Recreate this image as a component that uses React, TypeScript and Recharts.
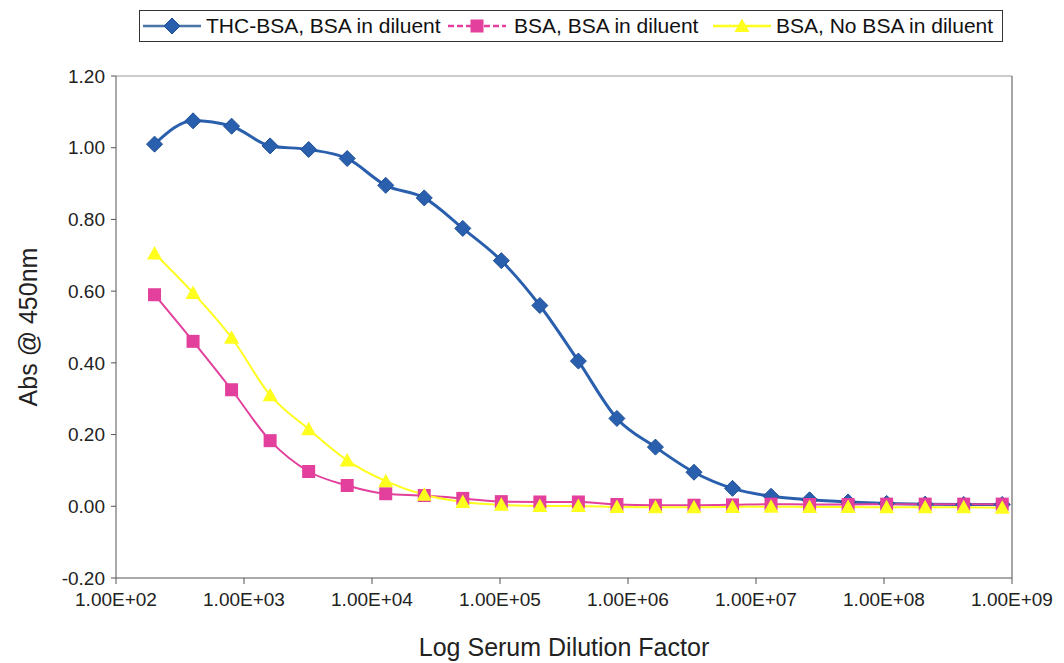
import React from 'react'
import {
  LineChart, Line, XAxis, YAxis, ReferenceLine, Label,
} from 'recharts'

const dilutions = [
  200, 400, 800, 1600, 3200, 6400, 12800, 25600, 51200, 102400, 204800, 409600,
  819200, 1638400, 3276800, 6553600, 13107200, 26214400, 52428800, 104857600,
  209715200, 419430400, 838860800,
]

const thcBsa = [
  1.01, 1.075, 1.06, 1.005, 0.995, 0.97, 0.895, 0.86, 0.775, 0.685, 0.56, 0.405,
  0.245, 0.165, 0.095, 0.05, 0.028, 0.018, 0.012, 0.008, 0.006, 0.005, 0.005,
]

const bsaWithBsa = [
  0.59, 0.46, 0.325, 0.183, 0.097, 0.058, 0.035, 0.03, 0.022, 0.013, 0.012, 0.012,
  0.005, 0.003, 0.003, 0.004, 0.006, 0.005, 0.005, 0.006, 0.006, 0.006, 0.006,
]

const bsaNoBsa = [
  0.705, 0.595, 0.47, 0.31, 0.215, 0.128, 0.07, 0.032, 0.012, 0.004, 0.001, 0.001,
  -0.002, -0.003, -0.003, -0.002, -0.001, -0.002, -0.002, -0.003, -0.003, -0.003, -0.004,
]

const xTicks = [1e2, 1e3, 1e4, 1e5, 1e6, 1e7, 1e8, 1e9]
const yTicks = [-0.2, 0, 0.2, 0.4, 0.6, 0.8, 1.0, 1.2]

const seriesNames = ['THC-BSA, BSA in diluent', 'BSA, BSA in diluent', 'BSA, No BSA in diluent']

const BLUE = '#2a5fae'
const PINK = '#e2409c'
const YELLOW = '#ffff1e'

const data = dilutions.map((d, i) => ({
  dilution: d,
  thc: thcBsa[i],
  bsa: bsaWithBsa[i],
  nobsa: bsaNoBsa[i],
}))

const FONT = '"Liberation Sans", Arial, sans-serif'

const fmtSci = (v: number) => {
  const exp = Math.round(Math.log10(v))
  return `1.00E+${String(exp).padStart(2, '0')}`
}

type DotProps = { cx?: number; cy?: number }

const Diamond = ({ cx, cy }: DotProps) => {
  if (cx == null || cy == null) return null
  const r = 8
  return (
    <polygon
      points={`${cx},${cy - r} ${cx + r},${cy} ${cx},${cy + r} ${cx - r},${cy}`}
      fill={BLUE}
      stroke="#1d4f96"
      strokeWidth={1}
    />
  )
}

const Square = ({ cx, cy }: DotProps) => {
  if (cx == null || cy == null) return null
  const s = 6.5
  return <rect x={cx - s} y={cy - s} width={s * 2} height={s * 2} fill={PINK} />
}

const Triangle = ({ cx, cy }: DotProps) => {
  if (cx == null || cy == null) return null
  const r = 7.5
  return (
    <polygon
      points={`${cx},${cy - r} ${cx + r},${cy + r * 0.8} ${cx - r},${cy + r * 0.8}`}
      fill={YELLOW}
    />
  )
}

// legend entries: line start/end, label start (px from the box's left edge)
const legendItems = [
  { x1: 3, x2: 61, tx: 66, color: '#4a73a8', dashed: false, marker: 'diamond' },
  { x1: 308, x2: 366, tx: 374, color: PINK, dashed: true, marker: 'square' },
  { x1: 573, x2: 631, tx: 636, color: YELLOW, dashed: false, marker: 'triangle' },
]

const LegendBox = () => (
  <div
    style={{
      position: 'absolute',
      left: 139,
      top: 10,
      width: 864,
      height: 32,
      border: '1px solid #333',
      boxSizing: 'border-box',
      background: '#fff',
      fontFamily: FONT,
      fontSize: 21,
      color: '#111',
    }}
  >
    <svg width={862} height={30} style={{ position: 'absolute', left: 0, top: 0 }}>
      {legendItems.map((it, i) => {
        const cx = (it.x1 + it.x2) / 2
        return (
          <g key={i}>
            <line
              x1={it.x1} y1={15} x2={it.x2} y2={15}
              stroke={it.color}
              strokeWidth={2.5}
              strokeDasharray={it.dashed ? '6 3' : undefined}
            />
            {it.marker === 'diamond' && <Diamond cx={cx} cy={15} />}
            {it.marker === 'square' && <Square cx={cx} cy={15} />}
            {it.marker === 'triangle' && <Triangle cx={cx} cy={15} />}
            <text x={it.tx} y={22} fontSize={21} fontFamily={FONT} fill="#111">
              {seriesNames[i]}
            </text>
          </g>
        )
      })}
    </svg>
  </div>
)

export default function App() {
  return (
    <div style={{ position: 'absolute', left: 0, top: 0, width: 1064, height: 663, background: '#fff' }}>
      <LineChart
        width={1064}
        height={663}
        data={data}
        margin={{ top: 76, right: 52, bottom: 55, left: 56 }}
      >
        <XAxis
          dataKey="dilution"
          type="number"
          scale="log"
          domain={[1e2, 1e9]}
          ticks={xTicks}
          tickFormatter={fmtSci}
          allowDataOverflow
          stroke="#555"
          tickSize={6}
          tickMargin={9}
          tick={{ fill: '#222', fontSize: 19, fontFamily: FONT }}
          height={30}
        >
          <Label
            value="Log Serum Dilution Factor"
            position="bottom"
            offset={30}
            style={{ fill: '#222', fontSize: 25, fontFamily: FONT }}
          />
        </XAxis>
        <YAxis
          type="number"
          domain={[-0.2, 1.2]}
          ticks={yTicks}
          tickFormatter={(v: number) => v.toFixed(2)}
          stroke="#555"
          tickSize={5}
          tickMargin={6}
          tick={{ fill: '#222', fontSize: 19, fontFamily: FONT }}
          width={60}
        >
          <Label
            value="Abs @ 450nm"
            angle={-90}
            position="insideLeft"
            offset={-28}
            style={{ fill: '#222', fontSize: 25, fontFamily: FONT, textAnchor: 'middle' }}
          />
        </YAxis>
        <ReferenceLine y={1.2} stroke="#999" strokeWidth={1} />
        <ReferenceLine x={1e9} stroke="#888" strokeWidth={1.5} />
        <Line
          type="monotone"
          dataKey="thc"
          name={seriesNames[0]}
          stroke={BLUE}
          strokeWidth={3}
          dot={<Diamond />}
          activeDot={false}
          isAnimationActive={false}
        />
        <Line
          type="monotone"
          dataKey="bsa"
          name={seriesNames[1]}
          stroke={PINK}
          strokeWidth={2}
          dot={<Square />}
          activeDot={false}
          isAnimationActive={false}
        />
        <Line
          type="monotone"
          dataKey="nobsa"
          name={seriesNames[2]}
          stroke={YELLOW}
          strokeWidth={2}
          dot={<Triangle />}
          activeDot={false}
          isAnimationActive={false}
        />
      </LineChart>
      <LegendBox />
    </div>
  )
}
